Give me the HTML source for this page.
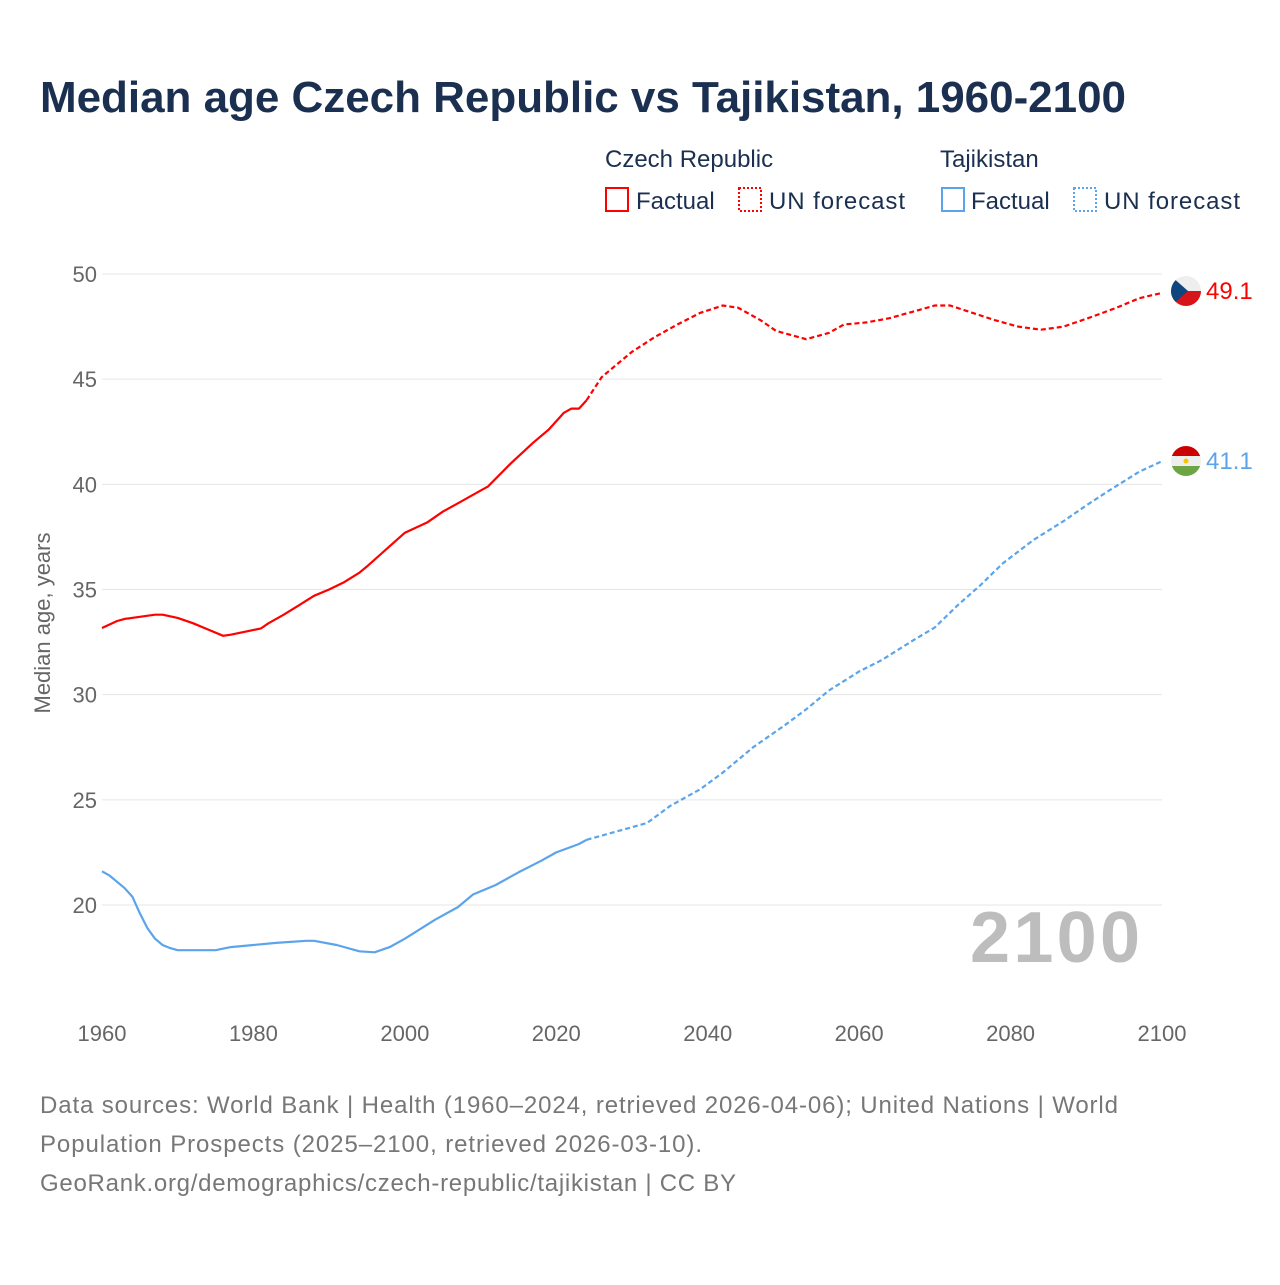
<!DOCTYPE html>
<html><head><meta charset="utf-8">
<style>
body{margin:0;background:#fff;width:1280px;height:1280px;overflow:hidden;font-family:"Liberation Sans",sans-serif;}
svg text{font-family:"Liberation Sans",sans-serif;}
</style></head>
<body>
<svg id="chart" width="1280" height="1280" viewBox="0 0 1280 1280">
<text x="40" y="112" font-size="44" font-weight="bold" fill="#1b3050" textLength="1086">Median age Czech Republic vs Tajikistan, 1960-2100</text>
<g>
<text x="605" y="167" font-size="24" fill="#1b3050">Czech Republic</text>
<text x="940" y="167" font-size="24" fill="#1b3050">Tajikistan</text>
<rect x="606" y="188" width="22" height="23" fill="none" stroke="#ff0000" stroke-width="2"/>
<text x="636" y="209" font-size="24" fill="#1b3050">Factual</text>
<rect x="739" y="188" width="22" height="23" fill="none" stroke="#ff0000" stroke-width="2" stroke-dasharray="2,2"/>
<text x="769" y="209" font-size="24" fill="#1b3050" textLength="136">UN forecast</text>
<rect x="942" y="188" width="22" height="23" fill="none" stroke="#5ba4ec" stroke-width="2"/>
<text x="971" y="209" font-size="24" fill="#1b3050">Factual</text>
<rect x="1074" y="188" width="22" height="23" fill="none" stroke="#5ba4ec" stroke-width="2" stroke-dasharray="2,2"/>
<text x="1104" y="209" font-size="24" fill="#1b3050" textLength="136">UN forecast</text>
</g>
<g id="grid"></g>
<g id="xaxis"></g>
<text x="50" y="623" font-size="22" fill="#666" text-anchor="middle" transform="rotate(-90 50 623)">Median age, years</text>
<text x="1140" y="962" font-size="72" font-weight="bold" fill="#bdbdbd" text-anchor="end" textLength="170">2100</text>
<g id="series"></g>
<g>
<clipPath id="c1"><circle cx="1186" cy="291" r="15"/></clipPath>
<g clip-path="url(#c1)"><rect x="1171" y="276" width="30" height="15" fill="#eeeeee"/><rect x="1171" y="291" width="30" height="15" fill="#d7141a"/><polygon points="1171,276 1188,291 1171,306" fill="#11457e"/></g>
</g>
<g>
<clipPath id="c2"><circle cx="1186" cy="461" r="15"/></clipPath>
<g clip-path="url(#c2)"><rect x="1171" y="446" width="30" height="10" fill="#cc0000"/><rect x="1171" y="456" width="30" height="10" fill="#eeeeee"/><rect x="1171" y="466" width="30" height="10" fill="#6da544"/><circle cx="1186" cy="461" r="2.5" fill="#f8c300"/></g>
</g>
<text x="1206" y="299" font-size="24" fill="#ff0000">49.1</text>
<text x="1206" y="469" font-size="24" fill="#5ba4ec">41.1</text>
<g font-size="24" fill="#777">
<text x="40" y="1113" textLength="1078">Data sources: World Bank | Health (1960–2024, retrieved 2026-04-06); United Nations | World</text>
<text x="40" y="1152" textLength="662">Population Prospects (2025–2100, retrieved 2026-03-10).</text>
<text x="40" y="1191" textLength="696">GeoRank.org/demographics/czech-republic/tajikistan | CC BY</text>
</g>
</svg>
<script>
const yTicks=[20,25,30,35,40,45,50];
const xTicks=[1960,1980,2000,2020,2040,2060,2080,2100];
const czYears=[1960,1962,1963,1965,1967,1968,1970,1972,1974,1976,1977,1979,1981,1982,1984,1986,1988,1990,1992,1994,1995,2000,2003,2005,2007,2010,2011,2014,2017,2019,2021,2022,2023,2024,2026,2030,2033,2036,2039,2042,2044,2047,2049,2053,2056,2058,2061,2064,2067,2070,2072,2075,2078,2081,2084,2087,2091,2094,2097,2100];
const czValues=[33.17,33.5,33.6,33.7,33.8,33.8,33.65,33.4,33.1,32.8,32.85,33.0,33.15,33.4,33.8,34.25,34.7,35.0,35.35,35.8,36.1,37.7,38.2,38.7,39.1,39.7,39.9,41.0,42.0,42.6,43.4,43.6,43.6,44.0,45.1,46.3,47.0,47.6,48.15,48.5,48.4,47.8,47.3,46.9,47.2,47.6,47.7,47.9,48.2,48.5,48.5,48.15,47.8,47.5,47.35,47.5,48.0,48.4,48.85,49.1];
const tjYears=[1960,1961,1963,1964,1965,1966,1967,1968,1969,1970,1975,1977,1980,1983,1987,1988,1991,1994,1996,1998,2000,2002,2004,2007,2009,2012,2015,2018,2020,2023,2024,2025,2032,2035,2039,2042,2046,2050,2053,2056,2060,2063,2067,2070,2073,2076,2079,2083,2087,2090,2093,2097,2100];
const tjValues=[21.6,21.4,20.8,20.4,19.6,18.9,18.4,18.1,17.95,17.85,17.85,18.0,18.1,18.2,18.3,18.3,18.1,17.8,17.75,18.0,18.4,18.85,19.3,19.9,20.5,20.95,21.55,22.1,22.5,22.9,23.1,23.2,23.9,24.7,25.5,26.3,27.5,28.5,29.3,30.2,31.1,31.65,32.55,33.2,34.25,35.2,36.25,37.35,38.25,39.0,39.7,40.6,41.1];
const factualEnd=2024;
const NS="http://www.w3.org/2000/svg";
const X=yr=>102+(yr-1960)*(1060/140);
const Y=v=>905-(v-20)*(631/30);
const grid=document.getElementById('grid');
yTicks.forEach(t=>{
 const l=document.createElementNS(NS,'line');
 
 
 l.setAttribute('x1',102);l.setAttribute('x2',1162);l.setAttribute('y1',Y(t));l.setAttribute('y2',Y(t));
 l.setAttribute('stroke','#e6e6e6');l.setAttribute('stroke-width','1');
 grid.appendChild(l);
 const tx=document.createElementNS(NS,'text');
 
 
 tx.setAttribute('x',97);tx.setAttribute('y',Y(t)+8);tx.setAttribute('text-anchor','end');
 tx.setAttribute('font-size','22');tx.setAttribute('fill','#666');tx.textContent=t;
 grid.appendChild(tx);
});
const xa=document.getElementById('xaxis');
xTicks.forEach(t=>{
 const tx=document.createElementNS(NS,'text');
 
 
 tx.setAttribute('x',X(t));tx.setAttribute('y',1041);tx.setAttribute('text-anchor','middle');
 tx.setAttribute('font-size','22');tx.setAttribute('fill','#666');tx.textContent=t;
 xa.appendChild(tx);
});
const sg=document.getElementById('series');
function draw(years,vals,color,name){
 const fact=[],fc=[];
 years.forEach((y,i)=>{const p=X(y).toFixed(1)+','+Y(vals[i]).toFixed(1);if(y<=factualEnd)fact.push(p);if(y>=factualEnd)fc.push(p);});
 const a=document.createElementNS(NS,'polyline');
 
 
 a.setAttribute('points',fact.join(' '));a.setAttribute('fill','none');a.setAttribute('stroke',color);a.setAttribute('stroke-width','2.2');a.setAttribute('stroke-linejoin','round');
 sg.appendChild(a);
 const b=document.createElementNS(NS,'polyline');
 
 
 b.setAttribute('points',fc.join(' '));b.setAttribute('fill','none');b.setAttribute('stroke',color);b.setAttribute('stroke-width','2.2');b.setAttribute('stroke-dasharray','5,3');
 sg.appendChild(b);
}
draw(czYears,czValues,'#ff0000','czech');
draw(tjYears,tjValues,'#5ba4ec','tajikistan');
</script>
</body></html>
